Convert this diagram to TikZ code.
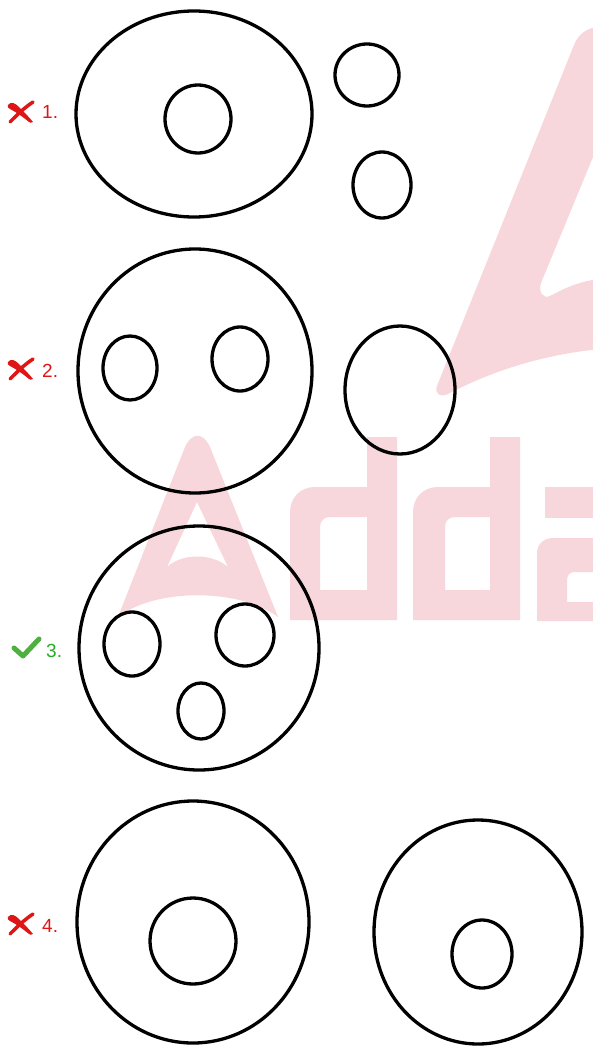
\documentclass[tikz,border=0pt]{standalone}
\usepackage{fontspec}
\setmainfont{Liberation Sans}
\definecolor{wmpink}{RGB}{247,215,220}
\definecolor{xred}{RGB}{222,22,22}
\definecolor{okgreen}{RGB}{78,176,62}
\definecolor{txtgreen}{RGB}{40,170,40}
\begin{document}
\begin{tikzpicture}[x=1pt,y=-1pt,
  ring/.style={draw=black, line width=3.3pt},
  lbl/.style={anchor=base west, inner sep=0pt, font=\fontsize{19}{21}\selectfont},
  wm/.style={fill=wmpink, draw=none},
  xmark/.pic={
    \fill[xred] (-13,-7) .. controls (-10,-11) and (-6,-9) .. (-2,-5) .. controls (3,0) and (8,5) .. (12,10)
      .. controls (10,11) and (9,11) .. (8,10) .. controls (2,5) and (-5,0) .. (-11,-3) .. controls (-13,-4) and (-14,-5) .. (-13,-7) -- cycle;
    \draw[xred, line width=3.5pt, line cap=round] (-11,10) .. controls (-4,3) and (3,-4) .. (12,-10);
  },
  okmark/.pic={
    \draw[okgreen, line width=5pt, line cap=round, line join=round] (-12,0) -- (-3,8) -- (13,-9);
  }]
\useasboundingbox (0,0) rectangle (593,1049);
\fill[white] (0,0) rectangle (593,1049);
% watermark
\begin{scope}
\clip (0,0) rectangle (593,1049);
% stylised 4
\fill[wm] (437,386) -- (574,45) .. controls (579,32) and (590,27) .. (600,27)
  -- (600,140) -- (541,283) .. controls (538,292) and (543,299) .. (550,296)
  .. controls (565,288) and (580,281) .. (600,279) -- (600,349)
  .. controls (540,355) and (490,372) .. (448,394) .. controls (440,398) and (434,393) .. (437,386) -- cycle;
% A
\fill[wm, even odd rule] (118,617) -- (185,447) .. controls (192,432) and (203,432) .. (210,447)
  -- (278,617) .. controls (240,588) and (155,588) .. (118,617) -- cycle
  (197,502) -- (228,567) .. controls (212,553) and (182,553) .. (167,567) -- cycle;
% d
\fill[wm, even odd rule] (290,620) -- (290,512) .. controls (290,498) and (300,487) .. (315,487)
  -- (367,487) -- (367,437) -- (397,437) -- (397,620) -- cycle
  (320,590) -- (320,527) .. controls (320,521) and (324,517) .. (330,517) -- (367,517) -- (367,590) -- cycle;
\fill[wm, even odd rule] (413,620) -- (413,512) .. controls (413,498) and (423,487) .. (438,487)
  -- (490,487) -- (490,437) -- (520,437) -- (520,620) -- cycle
  (445,590) -- (445,527) .. controls (445,521) and (449,517) .. (455,517) -- (490,517) -- (490,590) -- cycle;
% a
\fill[wm] (545,487) rectangle (600,518);
\fill[wm, even odd rule] (537,621) -- (537,553) .. controls (537,544) and (544,538) .. (553,538) -- (600,538) -- (600,621) -- cycle
  (567,602) -- (567,580) .. controls (567,575) and (570,572) .. (575,572) -- (600,572) -- (600,602) -- cycle;
\end{scope}
% figure 1
\draw[ring] (194,114) ellipse [x radius=118pt, y radius=103pt];
\draw[ring] (198,119) ellipse [x radius=33pt, y radius=34pt];
\draw[ring] (367,75) ellipse [x radius=32pt, y radius=31pt];
\draw[ring] (382,185) ellipse [x radius=29pt, y radius=33pt];
% figure 2
\draw[ring] (195,371) ellipse [x radius=117pt, y radius=122pt];
\draw[ring] (130,368) ellipse [x radius=27pt, y radius=32pt];
\draw[ring] (240,359) ellipse [x radius=28pt, y radius=32pt];
\draw[ring] (400,390) ellipse [x radius=55pt, y radius=64pt];
% figure 3
\draw[ring] (199,648) ellipse [x radius=120pt, y radius=122pt];
\draw[ring] (132,644) ellipse [x radius=28pt, y radius=32pt];
\draw[ring] (245,635) ellipse [x radius=29pt, y radius=31pt];
\draw[ring] (201,711) ellipse [x radius=23pt, y radius=28pt];
% figure 4
\draw[ring] (193,922) ellipse [x radius=116pt, y radius=121pt];
\draw[ring] (193,941) ellipse [x radius=43pt, y radius=43pt];
\draw[ring] (478,932) ellipse [x radius=104pt, y radius=112pt];
\draw[ring] (482,954) ellipse [x radius=30pt, y radius=34pt];
% labels
\pic at (21,112) {xmark};
\node[lbl, text=xred] (l1) at (42,118) {1.};
\pic at (21,369) {xmark};
\node[lbl, text=xred] (l2) at (42,377) {2.};
\pic at (26,648) {okmark};
\node[lbl, text=txtgreen] (l3) at (46,657) {3.};
\pic at (21,924) {xmark};
\node[lbl, text=xred] (l4) at (42,932) {4.};
\end{tikzpicture}
\end{document}
